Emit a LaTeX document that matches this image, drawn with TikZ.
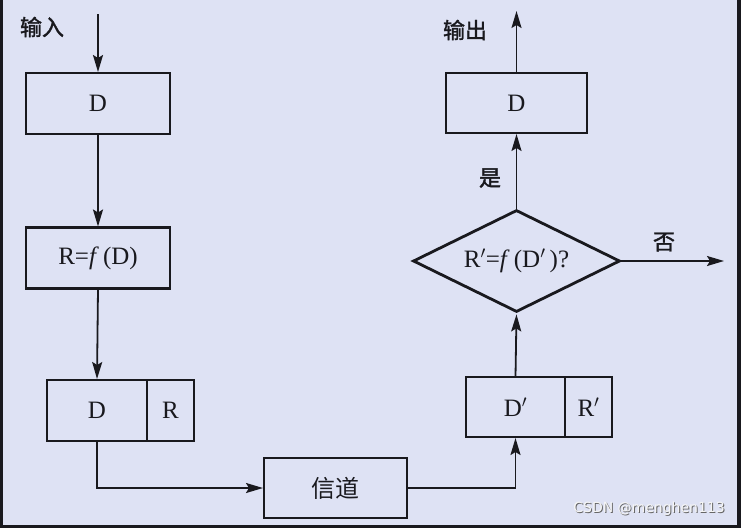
\documentclass[tikz,border=0pt]{standalone}
\usepackage{fontspec}
\setmainfont{Liberation Serif}
\newfontfamily\cjk{Noto Sans CJK SC}
\newfontfamily\cjkb[FakeBold=1.6]{Noto Sans CJK SC}
\newfontfamily\wmfont{DejaVu Sans}
\usetikzlibrary{arrows.meta,shapes.geometric}
\definecolor{bg}{RGB}{222,226,244}
\definecolor{ink}{RGB}{25,25,30}
\tikzset{
  box/.style={draw=ink, line width=2.8pt, minimum height=61pt, inner sep=0pt, outer sep=0pt, font=\fontsize{25}{25}\selectfont, text=ink},
  conn/.style={draw=ink, line width=1.8pt},
  arr/.style={conn, -{Stealth[length=17pt,width=10pt,inset=3pt]}, shorten >=1pt},
  lab/.style={font=\cjkb\fontsize{22}{22}\selectfont, text=ink, inner sep=0pt},
  wm/.style={font=\wmfont\fontsize{14}{14}\selectfont, anchor=east, inner sep=0pt}
}
\begin{document}
\begin{tikzpicture}[x=1pt,y=-1pt]
\fill[bg] (0,0) rectangle (741,528);
\useasboundingbox (0,0) rectangle (741,528);
\fill[ink] (0,0) rectangle (3,528);
\fill[ink] (737,0) rectangle (741,528);
\fill[ink] (0,525) rectangle (741,528);
% left column
\node[box, minimum width=144pt] (d1) at (98,103.5) {D};
\node[box, minimum width=144pt] (rf) at (98,258) {R=\textit{f}\,(D)};
\node[box, minimum width=100pt] (drD) at (97,410.5) {D};
\node[box, minimum width=47pt, anchor=west] (drR) at (drD.east) {R};
\node[box, minimum width=143pt, minimum height=60pt, font=\cjk\fontsize{24}{24}\selectfont] (ch) at (335.5,488) {信道};
% right column
\node[box, minimum width=99pt, minimum height=60pt] (dpD) at (515.5,407) {D$'$};
\node[box, minimum width=47pt, minimum height=60pt, anchor=west] (dpR) at (dpD.east) {R$'$};
\node[diamond, draw=ink, line width=2.8pt, minimum width=207pt, minimum height=102pt, inner sep=0pt] (dia) at (516.5,261) {};
\node[font=\fontsize{25}{25}\selectfont, text=ink] (diat) at (dia.center) {R$'$=\textit{f}\,(D$'$\,)?};
\node[box, minimum width=141pt, minimum height=60pt] (d2) at (516.5,103) {D};
% free ends
\coordinate (inTop) at (98,14);
\coordinate (outTop) at (516.5,10);
\coordinate (noEnd) at (725,261);
% labels
\node[lab] (lin) at (42,27) {输入};
\node[lab] (lout) at (465,30) {输出};
\node[lab] (lyes) at (490,178) {是};
\node[lab] (lno) at (664,242) {否};
% connectors
\draw[arr] (inTop) -- (d1.north);
\draw[arr] (d1.south) -- (rf.north);
\draw[arr] (rf.south) -- (drD.north);
\draw[arr] (drD.south) |- (ch.west);
\draw[arr] (ch.east) -| (dpD.south);
\draw[arr] (dpD.north) -- (dia.south);
\draw[arr] (dia.north) -- (d2.south);
\draw[arr] (d2.north) -- (outTop);
\draw[arr] (dia.east) -- (noEnd);
% watermark
\node[wm, text=gray!80!black] (wms) at (726,510) {CSDN @menghen113};
\node[wm, text=white!92!gray] (wm) at (725,509) {CSDN @menghen113};
\end{tikzpicture}
\end{document}
